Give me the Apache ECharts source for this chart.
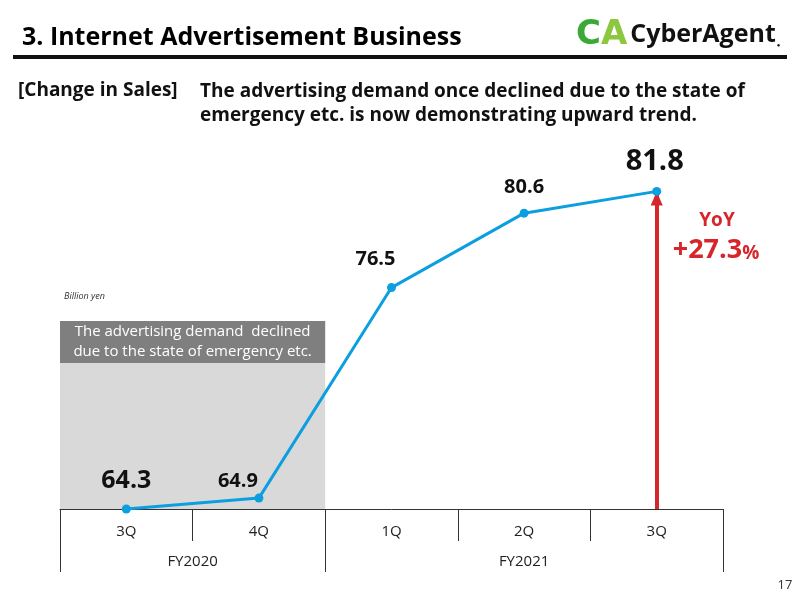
<!DOCTYPE html>
<html>
<head>
<meta charset="utf-8">
<script src="https://cdn.jsdelivr.net/npm/echarts@6/dist/echarts.min.js"></script>
<style>html,body{margin:0;padding:0;background:#fff}#c{width:800px;height:600px}</style>
</head>
<body>
<div id="c"></div>
<script>
// ---- data ----
const quarters = ['3Q', '4Q', '1Q', '2Q', '3Q'];
const fiscalYears = ['FY2020', 'FY2021'];
const sales = [64.3, 64.9, 76.5, 80.6, 81.8];
const yoyText = ['YoY', '+27.3'];

// ---- presentation ----
const F = '"Open Sans", "Noto Sans", sans-serif';
const labelStyles = [
  {fontSize: 25, offset: [0, -6]},
  {fontSize: 20, offset: [-21, 3]},
  {fontSize: 20, offset: [-16, -9]},
  {fontSize: 20, offset: [0, -6]},
  {fontSize: 29, offset: [-2, -6]}
];

const chart = echarts.init(document.getElementById('c'), null, {renderer: 'canvas'});
const option = {
  animation: false,
  backgroundColor: '#fff',
  grid: {left: 60, right: 77, top: 146, bottom: 91, containLabel: false},
  xAxis: [
    {
      type: 'category', data: quarters, boundaryGap: true,
      axisLine: {lineStyle: {color: '#333', width: 1}},
      axisTick: {show: true, interval: 0, length: 32, lineStyle: {color: '#333'}},
      axisLabel: {interval: 0, margin: 15, fontSize: 15, color: '#222', fontFamily: F}
    },
    {
      type: 'value', min: 0, max: 5, position: 'bottom',
      axisLine: {show: false}, splitLine: {show: false},
      axisTick: {show: true, customValues: [0, 2, 5], length: 63, lineStyle: {color: '#333'}},
      axisLabel: {customValues: [1, 3.5], margin: 45, fontSize: 15, color: '#222', fontFamily: F,
        formatter: v => (v < 2 ? fiscalYears[0] : fiscalYears[1])}
    }
  ],
  yAxis: {type: 'value', min: 64.3, max: 84.3, show: false, splitLine: {show: false}},
  series: [
    {
      type: 'line', xAxisIndex: 1, data: [], silent: true, z: 1,
      markArea: {
        silent: true,
        data: [
          [{xAxis: 0, yAxis: 64.3, itemStyle: {color: '#d9d9d9'}}, {xAxis: 2, yAxis: 72.34}],
          [{xAxis: 0, yAxis: 72.34, itemStyle: {color: '#7f7f7f'},
            label: {show: true, position: 'inside', color: '#fff', fontSize: 15, lineHeight: 20, fontFamily: F,
              formatter: 'The advertising demand  declined\ndue to the state of emergency etc.'}},
           {xAxis: 2, yAxis: 74.66}]
        ]
      }
    },
    {
      type: 'line', xAxisIndex: 0, z: 5,
      data: sales.map((v, i) => ({
        value: v,
        label: {fontSize: labelStyles[i].fontSize, offset: labelStyles[i].offset}
      })),
      lineStyle: {color: '#0b9fe0', width: 3},
      itemStyle: {color: '#0b9fe0'},
      symbol: 'circle', symbolSize: 9,
      label: {show: true, position: 'top', color: '#111', fontWeight: 'bold', fontFamily: F},
      markLine: {
        silent: true, z: 3,
        symbol: ['none', 'triangle'], symbolSize: [12, 14], symbolOffset: [0, [0, 7]],
        lineStyle: {color: '#d7262b', width: 4, type: 'solid'},
        label: {show: false},
        data: [[{coord: [4, sales[0]]}, {coord: [4, sales[4]]}]]
      }
    }
  ],
  graphic: [
    {type: 'text', left: 22, top: 25, style: {text: '3. Internet Advertisement Business', font: 'bold 25px ' + F, fill: '#000'}},
    {type: 'rect', shape: {x: 13, y: 55, width: 774, height: 4}, style: {fill: '#111'}},
    {type: 'text', left: 576, top: 18, style: {
      rich: {c: {fontSize: 34, fontWeight: 900, fill: '#3aa935', fontFamily: '"DejaVu Sans"'},
             a: {fontSize: 34, fontWeight: 900, fill: '#8dc63f', fontFamily: '"DejaVu Sans"'},
             t: {fontSize: 25, fontWeight: 'bold', fill: '#111', fontFamily: F, padding: [0, 0, 0, 3]},
             d: {fontSize: 6, fill: '#111', fontFamily: F, verticalAlign: 'bottom', padding: [0, 0, 4, 1]}},
      text: '{c|C}{a|A}{t|CyberAgent}{d|●}'}},
    {type: 'text', left: 18, top: 81, style: {text: '[Change in Sales]', font: 'bold 19px ' + F, fill: '#111'}},
    {type: 'text', left: 200, top: 80, style: {text: 'The advertising demand once declined due to the state of\nemergency etc. is now demonstrating upward trend.', font: 'bold 19px ' + F, lineHeight: 24, fill: '#111'}},
    {type: 'text', left: 64, top: 292, style: {text: 'Billion yen', font: 'italic 9px ' + F, fill: '#333'}},
    {type: 'text', x: 717, y: 221, style: {text: yoyText[0], font: 'bold 19px ' + F, fill: '#d7262b', textAlign: 'center', textVerticalAlign: 'middle'}},
    {type: 'text', x: 716, y: 250, style: {
      rich: {n: {fontSize: 27, fontWeight: 'bold', fill: '#d7262b', fontFamily: F},
             p: {fontSize: 19, fontWeight: 'bold', fill: '#d7262b', fontFamily: F, verticalAlign: 'bottom'}},
      text: '{n|' + yoyText[1] + '}{p|%}', textAlign: 'center', textVerticalAlign: 'middle'}},
    {type: 'text', x: 785, y: 585, style: {text: '17', font: '13px ' + F, fill: '#333', textAlign: 'center', textVerticalAlign: 'middle'}}
  ]
};
chart.setOption(option);
</script>
</body>
</html>
